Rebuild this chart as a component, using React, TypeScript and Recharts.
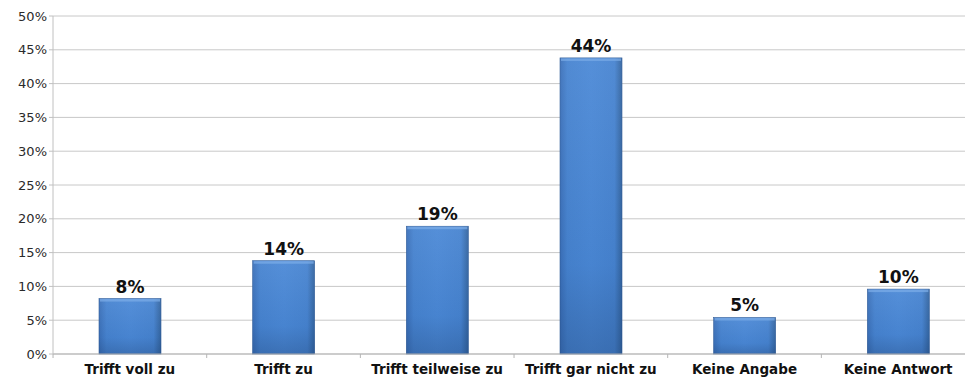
import { Bar, BarChart, CartesianGrid, LabelList, XAxis, YAxis } from "recharts";

const categories = ["Trifft voll zu", "Trifft zu", "Trifft teilweise zu", "Trifft gar nicht zu", "Keine Angabe", "Keine Antwort"];
const shares = [8.2, 13.8, 18.9, 43.8, 5.4, 9.6];
const shareLabels = ["8%", "14%", "19%", "44%", "5%", "10%"];
const yTicks = [0, 5, 10, 15, 20, 25, 30, 35, 40, 45, 50];

const data = categories.map((name, i) => ({ name, value: shares[i], label: shareLabels[i] }));

const FONT = "'DejaVu Sans', Verdana, sans-serif";
const BAND = 153.6;

function BevelBar(props: any) {
    const { x, y, width, height } = props;
    if (!height || height <= 0) return null;
    return (
        <g>
            <rect x={x} y={y} width={width} height={height} fill="url(#barBody)" stroke="#2f5c98" strokeWidth={0.6} />
            <rect x={x} y={y} width={width} height={height} fill="url(#barShade)" />
            <rect x={x + 1} y={y + 0.5} width={width - 2} height={2.5} fill="#7eaee8" opacity={0.7} />
        </g>
    );
}

function CategoryTick(props: any) {
    const { x, y, payload } = props;
    return (
        <g>
            <line x1={x - BAND / 2} y1={y - 8} x2={x - BAND / 2} y2={y - 4} stroke="#b5b5b5" />
            <text x={x} y={y + 12} textAnchor="middle" fontFamily={FONT} fontWeight="bold" fontSize={13.5} fill="#111">
                {payload.value}
            </text>
        </g>
    );
}

export default function App() {
    return (
        <div style={{ position: "absolute", left: 0, top: 0, width: 965, height: 379, overflow: "hidden", background: "#fff" }}>
            <BarChart width={982} height={379} data={data} margin={{ top: 16, right: 7, bottom: 0, left: 0 }} barSize={62}>
                <defs>
                    <linearGradient id="barBody" x1="0" y1="0" x2="1" y2="0">
                        <stop offset="0" stopColor="#3a6fb8" />
                        <stop offset="0.12" stopColor="#4683d0" />
                        <stop offset="0.5" stopColor="#4a88d6" />
                        <stop offset="0.88" stopColor="#4683d0" />
                        <stop offset="1" stopColor="#33649f" />
                    </linearGradient>
                    <linearGradient id="barShade" x1="0" y1="0" x2="0" y2="1">
                        <stop offset="0" stopColor="#ffffff" stopOpacity={0.06} />
                        <stop offset="0.7" stopColor="#1d3f70" stopOpacity={0.06} />
                        <stop offset="1" stopColor="#1d3f70" stopOpacity={0.32} />
                    </linearGradient>
                </defs>
                <CartesianGrid vertical={false} stroke="#c8c8c8" />
                <XAxis
                    dataKey="name"
                    height={25}
                    axisLine={{ stroke: "#b5b5b5" }}
                    tickLine={false}
                    interval={0}
                    tick={<CategoryTick />}
                />
                <YAxis
                    width={53}
                    domain={[0, 50]}
                    ticks={yTicks}
                    interval={0}
                    tickFormatter={(v: number) => `${v}%`}
                    axisLine={{ stroke: "#c0c0c0" }}
                    tickLine={{ stroke: "#c0c0c0" }}
                    tickSize={4}
                    tick={{ fontFamily: FONT, fontSize: 13, fill: "#2a2a2a" }}
                />
                <Bar dataKey="value" shape={<BevelBar />} isAnimationActive={false}>
                    <LabelList dataKey="label" position="top" offset={6} fontFamily={FONT} fontWeight="bold" fontSize={17} fill="#111" />
                </Bar>
            </BarChart>
        </div>
    );
}
